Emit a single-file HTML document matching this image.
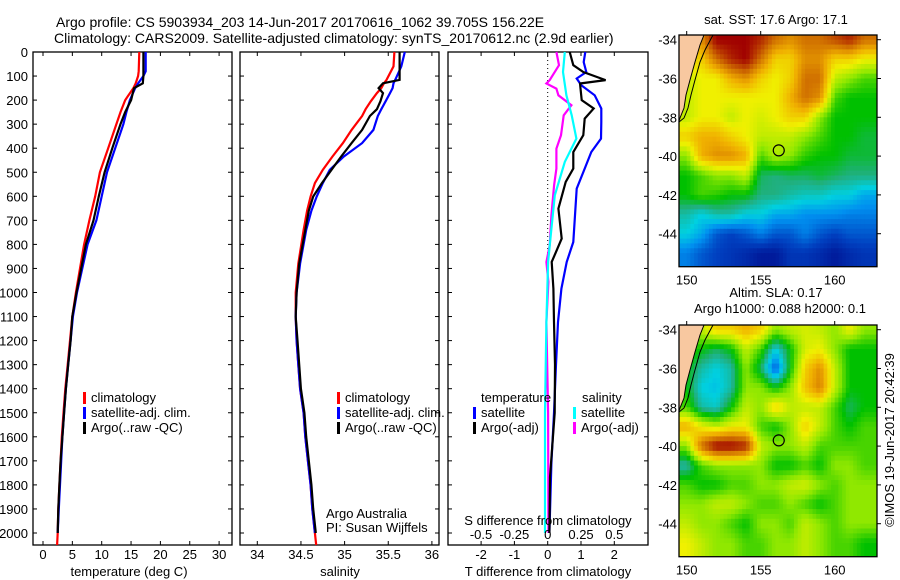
<!DOCTYPE html>
<html><head><meta charset="utf-8">
<style>
html,body{margin:0;padding:0;background:#fff;}
svg{display:block;font-family:"Liberation Sans",sans-serif;}
text{font-size:13px;fill:#000;}
</style></head>
<body>
<svg id="fig" width="900" height="580" viewBox="0 0 900 580" xmlns="http://www.w3.org/2000/svg">
<text x="56" y="27" style="font-size:14px">Argo profile: CS 5903934_203 14-Jun-2017 20170616_1062 39.705S 156.22E</text>
<text x="54" y="43" style="font-size:14px">Climatology: CARS2009. Satellite-adjusted climatology: synTS_20170612.nc (2.9d earlier)</text>
<g id="g"></g>
</svg>
<script>
// ---------- data ----------
const depthT = [0,80,100,130,150,200,250,300,400,500,600,700,800,900,1000,1100,1200,1300,1400,1500,1600,1700,1800,1900,2000,2050];
const tempClim = [16.4,16.3,16.2,15.8,15.4,14.0,13.2,12.5,11.1,9.7,8.9,7.9,7.0,6.3,5.6,5.0,4.6,4.2,3.8,3.5,3.2,3.0,2.8,2.6,2.5,2.4];
const tempSat = [17.5,17.5,17.1,16.2,15.7,14.8,14.2,13.7,12.3,10.9,10.0,9.1,7.6,6.7,5.8,5.1,4.7,4.3,3.9,3.6,3.3,3.1,2.9,2.7,2.5,null];
const tempArgo = [17.1,17.1,17.1,17.0,15.5,15.0,14.0,13.2,11.8,10.5,9.5,8.6,7.3,6.5,5.7,5.0,4.7,4.3,3.9,3.6,3.3,3.0,2.8,2.6,2.5,null];

const depthS = [0,60,116,130,150,171,205,238,266,324,379,435,490,545,601,660,740,880,1000,1100,1200,1300,1400,1500,1600,1700,1800,1900,2000,2050];
const salClim = [35.57,35.56,35.48,35.45,35.42,35.37,35.30,35.24,35.20,35.08,34.98,34.86,34.75,34.66,34.61,34.57,34.53,34.47,34.44,34.44,34.45,34.47,34.49,34.53,34.55,34.58,34.61,34.63,34.66,34.675];
const salSat = [35.69,35.65,35.58,35.56,35.55,35.52,35.47,35.42,35.38,35.33,35.20,34.99,34.83,34.75,34.68,34.62,34.56,34.49,34.45,34.44,34.45,34.47,34.49,34.53,34.55,34.58,34.61,34.63,34.66,null];
const salArgo = [35.63,35.63,35.63,35.44,35.39,35.44,35.41,35.37,35.29,35.20,35.08,34.96,34.85,34.74,34.64,34.59,34.55,34.48,34.45,34.44,34.46,34.48,34.50,34.54,34.56,34.59,34.62,34.64,34.67,null];

const depthTdSat = [0,42,83,110,138,180,235,291,360,416,485,568,679,790,873,984,1123,1300,1501,1709,2000];
const tDiffSat = [1.13,1.08,1.16,0.87,1.01,1.41,1.61,1.61,1.60,1.31,1.11,0.87,0.82,0.77,0.57,0.41,0.31,0.25,0.19,0.11,0.05];
const depthTdArgo = [0,55,83,117,131,200,235,277,346,416,485,540,651,776,873,984,1123,1300,1500,1767,2000];
const tDiffArgo = [0.66,0.77,1.07,1.74,0.97,1.02,1.38,1.11,1.07,0.77,0.77,0.54,0.32,0.42,0.12,0.17,0.19,0.22,0.21,0.07,0.05];
const depthSdSat = [0,83,180,263,360,457,596,735,873,1123,1500,2000];
const sDiffSat = [0.128,0.115,0.14,0.18,0.215,0.128,0.053,0.028,0.003,-0.01,-0.02,-0.02];
const depthSdArgo = [0,55,117,131,152,180,221,263,346,402,485,554,679,804,873,956,1123,1500,2000];
const sDiffArgo = [0.065,0.085,0.015,-0.01,0.065,0.08,0.178,0.12,0.10,0.065,0.065,0.048,0.028,0.015,-0.01,0.005,-0.01,0.003,0.005];

const depthTicks = [0,100,200,300,400,500,600,700,800,900,1000,1100,1200,1300,1400,1500,1600,1700,1800,1900,2000];
const tempTicks = [0,5,10,15,20,25,30];
const salTicks = [34,34.5,35,35.5,36];
const tdTicks = [-2,-1,0,1,2];
const sdTicks = [-0.5,-0.25,0,0.25,0.5];
const sdTickLabels = ["-0.5","-0.25","0","0.25","0.5"];
const latTicks = [-34,-36,-38,-40,-42,-44];
const lonTicks = [150,155,160];

// SST map grid (colour index 0..1), rows lat -34..-45, cols lon 150..162
const mapLats = [-34,-35,-36,-37,-38,-39,-40,-41,-42,-43,-44,-45];
const mapLons = [150,151,152,153,154,155,156,157,158,159,160,161,162];
const sstGrid = [
[0.8,0.8,1.0,1.0,1.0,0.95,0.85,0.8,0.85,0.85,0.9,0.95,0.85],
[0.7,0.7,0.85,0.95,1.0,0.85,0.7,0.7,0.8,0.8,0.7,0.7,0.65],
[0.6,0.65,0.65,0.75,0.8,0.7,0.65,0.7,0.85,0.85,0.6,0.55,0.5],
[0.6,0.65,0.65,0.65,0.65,0.65,0.65,0.75,0.85,0.8,0.5,0.45,0.45],
[0.6,0.65,0.65,0.6,0.65,0.62,0.65,0.7,0.7,0.55,0.45,0.45,0.45],
[0.7,0.75,0.75,0.7,0.65,0.6,0.6,0.6,0.55,0.5,0.45,0.45,0.42],
[0.55,0.75,0.8,0.8,0.75,0.5,0.58,0.55,0.48,0.45,0.45,0.42,0.42],
[0.45,0.5,0.55,0.55,0.6,0.4,0.38,0.4,0.4,0.42,0.4,0.38,0.38],
[0.45,0.5,0.48,0.45,0.45,0.38,0.38,0.35,0.33,0.33,0.3,0.3,0.25],
[0.35,0.3,0.35,0.35,0.3,0.3,0.25,0.25,0.22,0.22,0.22,0.2,0.2],
[0.3,0.25,0.15,0.12,0.15,0.2,0.15,0.15,0.2,0.15,0.12,0.15,0.15],
[0.2,0.15,0.12,0.1,0.08,0.05,0.05,0.1,0.1,0.08,0.05,0.08,0.1]];
const slaGrid = [
[0.55,0.6,0.7,0.7,0.75,0.7,0.55,0.6,0.62,0.6,0.55,0.65,0.55],
[0.5,0.45,0.4,0.45,0.6,0.5,0.3,0.45,0.62,0.65,0.55,0.45,0.45],
[0.45,0.35,0.3,0.35,0.55,0.4,0.15,0.45,0.7,0.8,0.6,0.45,0.45],
[0.45,0.3,0.28,0.35,0.55,0.55,0.45,0.55,0.72,0.82,0.6,0.45,0.45],
[0.5,0.35,0.32,0.45,0.6,0.55,0.7,0.6,0.6,0.6,0.5,0.4,0.45],
[0.75,0.65,0.6,0.65,0.65,0.5,0.45,0.55,0.7,0.6,0.5,0.45,0.5],
[0.55,0.85,1.0,1.0,0.95,0.6,0.55,0.55,0.6,0.5,0.5,0.5,0.5],
[0.35,0.5,0.55,0.55,0.55,0.55,0.45,0.45,0.5,0.45,0.55,0.55,0.5],
[0.5,0.45,0.45,0.5,0.5,0.55,0.55,0.6,0.62,0.55,0.5,0.55,0.55],
[0.55,0.55,0.6,0.6,0.55,0.5,0.5,0.55,0.5,0.45,0.5,0.55,0.55],
[0.6,0.55,0.55,0.5,0.45,0.55,0.55,0.5,0.6,0.55,0.5,0.55,0.55],
[0.65,0.6,0.55,0.55,0.5,0.5,0.55,0.55,0.6,0.55,0.5,0.5,0.45]];
const argoLon = 156.22, argoLat = -39.705;

// ---------- helpers ----------
const NS = "http://www.w3.org/2000/svg";
const G = document.getElementById('g');
function mk(tag, attrs, parent) {
  const e = document.createElementNS(NS, tag);
  for (const k in attrs) e.setAttribute(k, attrs[k]);
  (parent || G).appendChild(e);
  return e;
}
function txt(x, y, s, anchor, parent) {
  const t = mk('text', {x: x, y: y, 'text-anchor': anchor || 'start'}, parent);
  t.textContent = s;
  return t;
}
const Y0 = 52, YS = 0.2405, BOT = 545;
const yD = d => Y0 + d * YS;
const xT = v => 43 + v * 5.87;
const xS = v => 257.3 + (v - 34) * 87.3;
const xTd = v => 547.7 + v * 33.3;
const xSd = v => 547.7 + v * 133.3;

function box(x0, x1, name) {
  const r = mk('rect', {x: x0, y: Y0, width: x1 - x0, height: BOT - Y0, fill: 'none', stroke: '#000', 'stroke-width': 1.3});
  
  
}
function line(depths, vals, xf, color, name) {
  const pts = [];
  for (let i = 0; i < depths.length; i++) if (vals[i] !== null) pts.push(xf(vals[i]).toFixed(1) + ',' + yD(depths[i]).toFixed(1));
  const p = mk('polyline', {points: pts.join(' '), fill: 'none', stroke: color, 'stroke-width': 2.2, 'stroke-linejoin': 'miter'});
  
  
}
function legend(x, y, color, label, name) {
  const g = mk('g', {});
  
  
  mk('rect', {x: x, y: y - 10, width: 3, height: 12, fill: color}, g);
  txt(x + 8, y, label, 'start', g);
}

// ---------- panel 1: temperature ----------
box(33, 232, 'temperature-panel');
depthTicks.forEach(d => {
  const t = txt(28, yD(d) + 5, String(d), 'end');
  
  
  mk('line', {x1: 33, x2: 37, y1: yD(d), y2: yD(d), stroke: '#000'});
  mk('line', {x1: 228, x2: 232, y1: yD(d), y2: yD(d), stroke: '#000'});
  mk('line', {x1: 240, x2: 244, y1: yD(d), y2: yD(d), stroke: '#000'});
  mk('line', {x1: 435, x2: 439, y1: yD(d), y2: yD(d), stroke: '#000'});
  mk('line', {x1: 448, x2: 452, y1: yD(d), y2: yD(d), stroke: '#000'});
  mk('line', {x1: 644, x2: 648, y1: yD(d), y2: yD(d), stroke: '#000'});
});
tempTicks.forEach(v => {
  mk('line', {x1: xT(v), x2: xT(v), y1: BOT, y2: BOT - 4, stroke: '#000'});
  mk('line', {x1: xT(v), x2: xT(v), y1: Y0, y2: Y0 + 4, stroke: '#000'});
  const t = txt(xT(v), 559, String(v), 'middle');
  
  
});
line(depthT, tempClim, xT, '#ff0000', 'temperature-climatology-line');
line(depthT, tempSat, xT, '#0000ff', 'temperature-satellite-line');
line(depthT, tempArgo, xT, '#000000', 'temperature-argo-line');
legend(83, 402, '#ff0000', 'climatology', 'legend-climatology');
legend(83, 417, '#0000ff', 'satellite-adj. clim.', 'legend-satellite-adj');
legend(83, 432, '#000000', 'Argo(..raw -QC)', 'legend-argo');
let t1 = txt(129, 576, 'temperature (deg C)', 'middle');



// ---------- panel 2: salinity ----------
box(240, 439, 'salinity-panel');
salTicks.forEach(v => {
  mk('line', {x1: xS(v), x2: xS(v), y1: BOT, y2: BOT - 4, stroke: '#000'});
  mk('line', {x1: xS(v), x2: xS(v), y1: Y0, y2: Y0 + 4, stroke: '#000'});
  const t = txt(xS(v), 559, String(v), 'middle');
  
  
});
line(depthS, salClim, xS, '#ff0000', 'salinity-climatology-line');
line(depthS, salSat, xS, '#0000ff', 'salinity-satellite-line');
line(depthS, salArgo, xS, '#000000', 'salinity-argo-line');
legend(337, 402, '#ff0000', 'climatology', 'legend-sal-climatology');
legend(337, 417, '#0000ff', 'satellite-adj. clim.', 'legend-sal-satellite-adj');
legend(337, 432, '#000000', 'Argo(..raw -QC)', 'legend-sal-argo');
let t2 = txt(326, 518, 'Argo Australia');


let t3 = txt(326, 532, 'PI: Susan Wijffels');


let t4 = txt(340, 576, 'salinity', 'middle');



// ---------- panel 3: differences ----------
box(448, 648, 'difference-panel');
mk('line', {x1: xTd(0), x2: xTd(0), y1: Y0, y2: 272, stroke: '#000', 'stroke-dasharray': '1,3'});
tdTicks.forEach(v => {
  mk('line', {x1: xTd(v), x2: xTd(v), y1: BOT, y2: BOT - 4, stroke: '#000'});
  mk('line', {x1: xTd(v), x2: xTd(v), y1: Y0, y2: Y0 + 4, stroke: '#000'});
  const t = txt(xTd(v), 559, String(v), 'middle');
  
  
});
line(depthSdArgo, sDiffArgo, xSd, '#ff00ff', 's-diff-argo-line');
line(depthSdSat, sDiffSat, xSd, '#00ffff', 's-diff-satellite-line');
line(depthTdSat, tDiffSat, xTd, '#0000ff', 't-diff-satellite-line');
line(depthTdArgo, tDiffArgo, xTd, '#000000', 't-diff-argo-line');
sdTicks.forEach((v, i) => {
  const t = txt(xSd(v), 539, sdTickLabels[i], 'middle');
  
  
});
let t5 = txt(548, 525, 'S difference from climatology', 'middle');


let t6 = txt(548, 576, 'T difference from climatology', 'middle');


let t7 = txt(481, 402, 'temperature');


let t8 = txt(582, 402, 'salinity');


legend(473, 417, '#0000ff', 'satellite', 'legend-t-satellite');
legend(473, 432, '#000000', 'Argo(-adj)', 'legend-t-argo');
legend(573, 417, '#00ffff', 'satellite', 'legend-s-satellite');
legend(573, 432, '#ff00ff', 'Argo(-adj)', 'legend-s-argo');

// ---------- maps ----------
const stops = [[0,[0,0,128]],[0.12,[0,64,192]],[0.22,[0,144,240]],[0.3,[0,208,224]],[0.38,[32,176,128]],[0.45,[0,192,0]],[0.55,[144,232,0]],[0.65,[240,240,0]],[0.75,[240,176,0]],[0.85,[208,112,0]],[1,[160,0,0]]];
function cmap(v) {
  v = Math.max(0, Math.min(1, v));
  for (let i = 1; i < stops.length; i++) {
    if (v <= stops[i][0]) {
      const a = stops[i-1], b = stops[i], f = (v - a[0]) / (b[0] - a[0]);
      const c = a[1].map((q, k) => Math.round(q + (b[1][k] - q) * f));
      return 'rgb(' + c.join(',') + ')';
    }
  }
  return 'rgb(160,0,0)';
}
function drawMap(top, grid, name, title1, title2) {
  const L = 679, R = 877, B = top + 231.7;
  const lx = lon => 686.7 + (lon - 150) * 14.8;
  const ly = lat => top + 4.7 + (-34 - lat) * 19.4;
  const g = mk('g', {});
  
  
  const clipId = name + '-clip';
  const cp = mk('clipPath', {id: clipId}, g);
  mk('rect', {x: L, y: top, width: R - L, height: B - top}, cp);
  const cg = mk('g', {'clip-path': 'url(#' + clipId + ')'}, g);
  const step = 0.25;
  for (let lat = -33.5; lat > -46; lat -= step) {
    for (let lon = 149.5; lon < 163; lon += step) {
      const cl = lon + step / 2, ca = lat - step / 2;
      let fi = Math.max(0, Math.min(mapLons.length - 1.001, cl - mapLons[0]));
      let fj = Math.max(0, Math.min(mapLats.length - 1.001, mapLats[0] - ca));
      const i0 = Math.floor(fi), j0 = Math.floor(fj), di = fi - i0, dj = fj - j0;
      const v = grid[j0][i0] * (1-di) * (1-dj) + grid[j0][i0+1] * di * (1-dj) + grid[j0+1][i0] * (1-di) * dj + grid[j0+1][i0+1] * di * dj;
      mk('rect', {x: lx(lon).toFixed(1), y: ly(lat).toFixed(1), width: (step * 14.8 + 0.6).toFixed(1), height: (step * 19.4 + 0.6).toFixed(1), fill: cmap(v)}, cg);
    }
  }
  const dy = top - 35;
  const land = mk('polygon', {points: [[679,35],[704,35],[700,45],[695,62],[690,80],[686,95],[684,108],[680,118],[679,121]].map(p => p[0] + ',' + (p[1] + dy)).join(' '), fill: '#f8c8a0'}, cg);
  
  
  mk('polyline', {points: [[704,35],[700,45],[695,62],[690,80],[686,95],[684,108],[680,118],[679,121]].map(p => p[0] + ',' + (p[1] + dy)).join(' '), fill: 'none', stroke: '#000', 'stroke-width': 1}, cg);
  mk('polyline', {points: [[713,35],[705,50],[700,62],[695,80],[691,95],[688,108],[684,118],[679,122]].map(p => p[0] + ',' + (p[1] + dy)).join(' '), fill: 'none', stroke: '#000', 'stroke-width': 1}, cg);
  const c = mk('circle', {cx: lx(argoLon), cy: ly(argoLat), r: 5.5, fill: 'none', stroke: '#000', 'stroke-width': 1.2}, g);
  
  
  mk('rect', {x: L, y: top, width: R - L, height: B - top, fill: 'none', stroke: '#000', 'stroke-width': 1.3}, g);
  latTicks.forEach(lat => {
    mk('line', {x1: R, x2: R + 4, y1: ly(lat), y2: ly(lat), stroke: '#000'}, g);
    const t = txt(677, ly(lat) + 5, String(lat), 'end', g);
    
    
  });
  lonTicks.forEach(lon => {
    mk('line', {x1: lx(lon), x2: lx(lon), y1: top, y2: top - 4, stroke: '#000'}, g);
    const t = txt(lx(lon), B + 18, String(lon), 'middle', g);
    
    
  });
  const tt = txt(776, title2 ? top - 28 : top - 11, title1, 'middle', g);
  
  
  if (title2) {
    const t2b = txt(780, top - 12, title2, 'middle', g);
    
    
  }
}
drawMap(35, sstGrid, 'sst-map', 'sat. SST: 17.6 Argo: 17.1', null);
drawMap(325, slaGrid, 'sla-map', 'Altim. SLA: 0.17', 'Argo h1000: 0.088 h2000: 0.1');
const stamp = txt(0, 0, '\u00A9IMOS 19-Jun-2017 20:42:39', 'middle');
stamp.setAttribute('transform', 'translate(894,440) rotate(-90)');


</script>
</body></html>
